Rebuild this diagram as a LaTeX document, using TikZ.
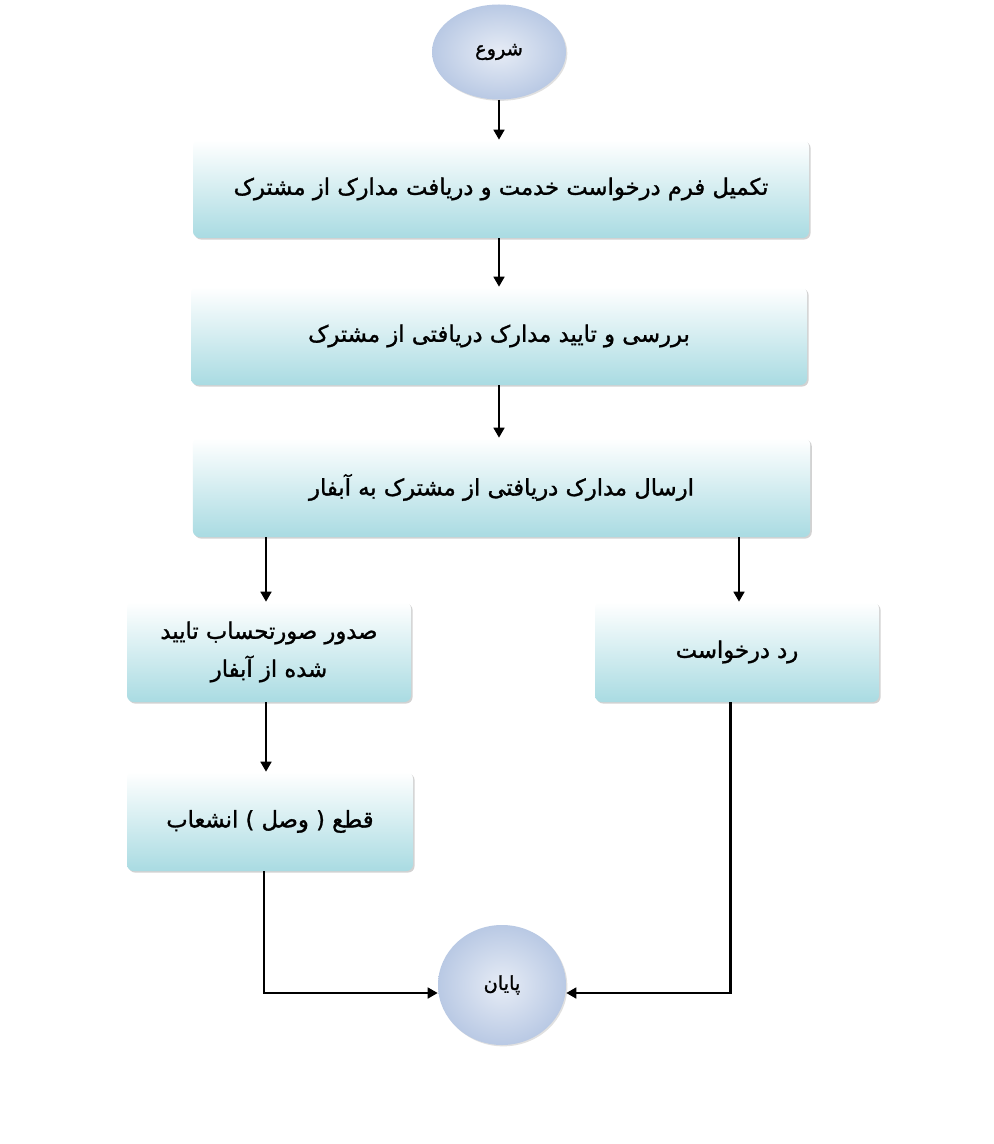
\documentclass[tikz,border=0pt]{standalone}
\usepackage{fontspec}
\usetikzlibrary{shadows,arrows.meta,shapes.geometric}
\TeXXeTstate=1
\newfontfamily\fa[Script=Arabic,FakeBold=1.3]{DejaVu Sans}
\definecolor{boxbot}{HTML}{A9DBE2}
\definecolor{ovalc}{HTML}{B9C9E4}
\begin{document}
\begin{tikzpicture}[x=0.75pt,y=-0.75pt,
  proc/.style={rectangle, rounded corners=5pt, top color=white, bottom color=boxbot,
    draw=none, align=center, inner sep=0pt,
    drop shadow={shadow xshift=1.2pt, shadow yshift=-1.2pt, fill=gray!70, opacity=0.5},
    font=\fa\fontsize{17}{28.5}\selectfont},
  term/.style={ellipse, inner color=ovalc!35!white, outer color=ovalc, draw=none, inner sep=0pt,
    drop shadow={shadow xshift=1pt, shadow yshift=-1pt, fill=gray!60, opacity=0.4},
    font=\fa\fontsize{14.5}{16}\selectfont},
  conn/.style={line width=1.8pt, -{Triangle[length=7.5pt,width=8pt]}}]
\useasboundingbox (0,0) rectangle (994,1144);
\fill[white] (0,0) rectangle (994,1144);

\node[term, minimum width=100.5pt, minimum height=71.25pt] (start) at (499,52) {\beginR شروع\endR};
\node[proc, minimum width=462pt, minimum height=73.5pt] (b1) at (501,189) {\beginR تکمیل فرم درخواست خدمت و دریافت مدارک از مشترک\endR};
\node[proc, minimum width=462pt, minimum height=73.5pt] (b2) at (499,336) {\beginR بررسی و تایید مدارک دریافتی از مشترک\endR};
\node[proc, minimum width=463pt, minimum height=74.25pt] (b3) at (501.5,487.5) {\beginR ارسال مدارک دریافتی از مشترک به آبفار\endR};
\node[proc, minimum width=213pt, minimum height=75pt] (b4) at (269,652) {\beginR صدور صورتحساب تایید\endR\\\beginR شده از آبفار\endR};
\node[proc, minimum width=213pt, minimum height=75pt] (b5) at (737,652) {\beginR رد درخواست\endR};
\node[proc, minimum width=214.5pt, minimum height=74.25pt] (b6) at (270,821.5) {\beginR قطع ( وصل ) انشعاب\endR};
\node[term, minimum width=96pt, minimum height=90pt] (end) at (502,985) {\beginR پایان\endR};

\draw[conn] (start.south) -- (start.south |- b1.north);
\draw[conn] (b1.south -| start.south) -- (b2.north -| start.south);
\draw[conn] (b2.south) -- (b3.north -| b2.south);
\draw[conn] ([xshift=-2.25pt]b4.north |- b3.south) -- ([xshift=-2.25pt]b4.north);
\draw[conn] ([xshift=1.5pt]b5.north |- b3.south) -- ([xshift=1.5pt]b5.north);
\draw[conn] ([xshift=-2.25pt]b4.south) -- ([xshift=-2.25pt]b4.south |- b6.north);
\draw[conn] ([xshift=-4.5pt]b6.south) |- ([yshift=-6pt]end.west);
\draw[conn] ([xshift=-5pt]b5.south) |- ([yshift=-6pt]end.east);
\end{tikzpicture}
\end{document}
